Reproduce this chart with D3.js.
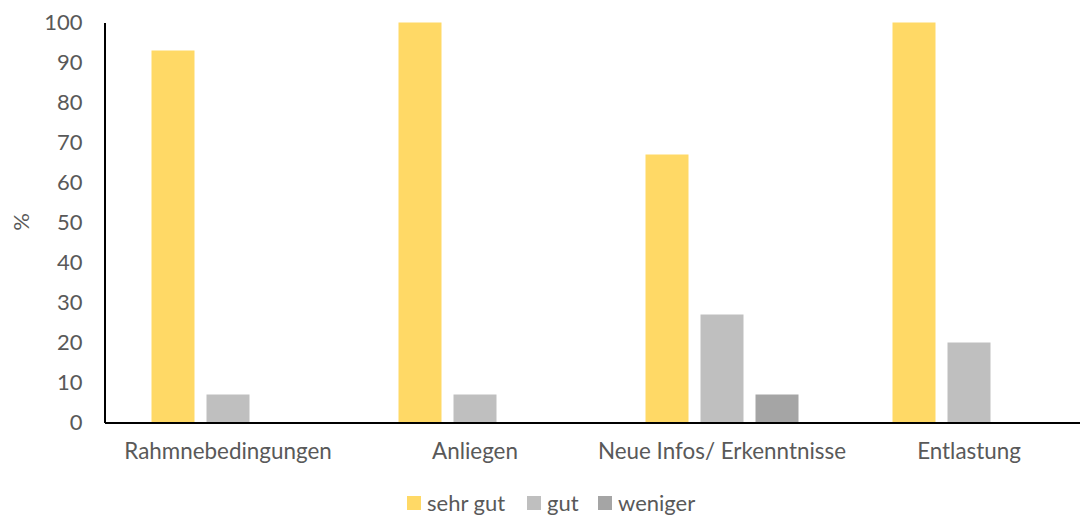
<!DOCTYPE html>
<html>
<head>
<meta charset="utf-8">
<script src="https://cdn.jsdelivr.net/npm/d3@7"></script>
<style>
  html, body { margin: 0; padding: 0; background: #fff; }
  svg { display: block; }
  text { font-family: Lato, "Open Sans", sans-serif; fill: #595959; }
</style>
</head>
<body>
<svg id="chart" width="1080" height="515"></svg>
<script>
// Categories and series
const categories = ["Rahmnebedingungen", "Anliegen", "Neue Infos/ Erkenntnisse", "Entlastung"];
const seriesNames = ["sehr gut", "gut", "weniger"];
const sehrGut = [93, 100, 67, 100];
const gut = [7, 7, 27, 20];
const weniger = [0, 0, 7, 0];
const yTicks = [0, 10, 20, 30, 40, 50, 60, 70, 80, 90, 100];
const colors = ["#FFD966", "#BFBFBF", "#A5A5A5"];

const seriesValues = [sehrGut, gut, weniger];
const rows = categories.map((c, i) => ({
  category: c,
  values: seriesNames.map((s, j) => ({ series: s, value: seriesValues[j][i] }))
}));

const svg = d3.select("#chart");
const plotLeft = 104.5, plotRight = 1092.5, plotTop = 22.5, plotBottom = 422.5;

const x0 = d3.scaleBand().domain(categories).range([plotLeft, plotRight]).paddingInner(0).paddingOuter(0);
const x1 = d3.scaleBand().domain(seriesNames).range([47, 47 + 43 * 3 + 12 * 2]).paddingInner(12 / 55).paddingOuter(0);
const y = d3.scaleLinear().domain([0, 100]).range([plotBottom, plotTop]);

// Bars
const groups = svg.append("g").selectAll("g")
  .data(rows).join("g")
  .attr("transform", d => `translate(${x0(d.category)},0)`);

groups.selectAll("rect")
  .data(d => d.values.filter(v => v.value > 0))
  .join("rect")
  .attr("x", d => x1(d.series))
  .attr("width", x1.bandwidth())
  .attr("y", d => y(d.value))
  .attr("height", d => y(0) - y(d.value))
  .attr("fill", d => colors[seriesNames.indexOf(d.series)]);

// Y axis
const yAxis = svg.append("g")
  .attr("transform", `translate(${plotLeft},0)`)
  .call(d3.axisLeft(y).tickValues(yTicks).tickSize(0).tickPadding(22));
yAxis.select(".domain").attr("stroke", "#000").attr("stroke-width", 2);
yAxis.selectAll("text").attr("font-size", 22).style("fill", "#595959")
  .style("font-family", "Lato, 'Open Sans', sans-serif");

// X axis
const xAxis = svg.append("g")
  .attr("transform", `translate(0,${plotBottom})`)
  .call(d3.axisBottom(x0).tickSize(0).tickPadding(21));
xAxis.select(".domain").attr("stroke", "#000").attr("stroke-width", 2);
xAxis.selectAll("text").attr("font-size", 22.4).style("fill", "#595959")
  .style("font-family", "Lato, 'Open Sans', sans-serif");

// Y axis title
svg.append("text")
  .attr("transform", "translate(29,222) rotate(-90)")
  .attr("text-anchor", "middle")
  .attr("font-size", 22)
  .text("%");

// Legend
const legendX = [407, 527, 598];
const legend = svg.append("g").selectAll("g")
  .data(seriesNames).join("g")
  .attr("transform", (d, i) => `translate(${legendX[i]},496)`);
legend.append("rect").attr("width", 14).attr("height", 14).attr("fill", (d, i) => colors[i]);
legend.append("text").attr("x", 20).attr("y", 7).attr("dy", "0.35em")
  .attr("font-size", 22).text(d => d);
</script>
</body>
</html>
